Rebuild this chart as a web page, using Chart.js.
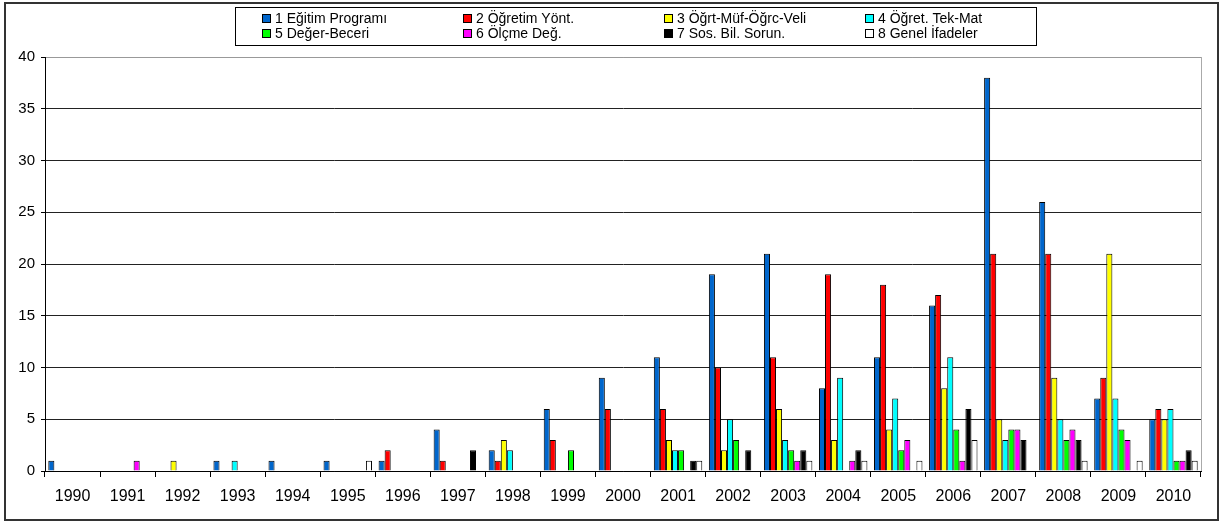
<!DOCTYPE html>
<html>
<head>
<meta charset="utf-8">
<script src="https://cdn.jsdelivr.net/npm/chart.js@4/dist/chart.umd.min.js"></script>
<style>
  html, body { margin: 0; padding: 0; background: #fff; }
  canvas { display: block; }
</style>
</head>
<body>
<canvas id="chart" width="1222" height="523"></canvas>
<script>
const years = ['1990', '1991', '1992', '1993', '1994', '1995', '1996', '1997', '1998', '1999', '2000',
  '2001', '2002', '2003', '2004', '2005', '2006', '2007', '2008', '2009', '2010'];

const seriesNames = ['1 Eğitim Programı', '2 Öğretim Yönt.', '3 Öğrt-Müf-Öğrc-Veli', '4 Öğret. Tek-Mat',
  '5 Değer-Beceri', '6 Ölçme Değ.', '7 Sos. Bil. Sorun.', '8 Genel İfadeler'];

const egitimProgrami = [1, 0, 0, 1, 1, 1, 1, 4, 2, 6, 9, 11, 19, 21, 8, 11, 16, 38, 26, 7, 5];
const ogretimYont    = [0, 0, 0, 0, 0, 0, 2, 1, 1, 3, 6, 6, 10, 11, 19, 18, 17, 21, 21, 9, 6];
const ogrtMufVeli    = [0, 0, 1, 0, 0, 0, 0, 0, 3, 0, 0, 3, 2, 6, 3, 4, 8, 5, 9, 21, 5];
const ogretTekMat    = [0, 0, 0, 1, 0, 0, 0, 0, 2, 0, 0, 2, 5, 3, 9, 7, 11, 3, 5, 7, 6];
const degerBeceri    = [0, 0, 0, 0, 0, 0, 0, 0, 0, 2, 0, 2, 3, 2, 0, 2, 4, 4, 3, 4, 1];
const olcmeDeg       = [0, 1, 0, 0, 0, 0, 0, 0, 0, 0, 0, 0, 0, 1, 1, 3, 1, 4, 4, 3, 1];
const sosBilSorun    = [0, 0, 0, 0, 0, 0, 0, 2, 0, 0, 0, 1, 2, 2, 2, 0, 6, 3, 3, 0, 2];
const genelIfadeler  = [0, 0, 0, 0, 0, 1, 0, 0, 0, 0, 0, 1, 0, 1, 1, 1, 3, 0, 1, 1, 1];

const seriesData = [egitimProgrami, ogretimYont, ogrtMufVeli, ogretTekMat,
  degerBeceri, olcmeDeg, sosBilSorun, genelIfadeler];
const colors = ['#0066cc', '#ff0000', '#ffff00', '#00ffff', '#00ff00', '#ff00ff', '#000000', '#ffffff'];

const FONT = '"Liberation Sans", Arial, sans-serif';

// frame round the whole chart and the plot area, like the Excel original
const chartFrame = {
  id: 'chartFrame',
  beforeDraw: (chart) => {
    const { ctx, chartArea } = chart;
    ctx.save();
    ctx.fillStyle = '#fff';
    ctx.fillRect(0, 0, chart.width, chart.height);
    ctx.strokeStyle = '#aaa';
    ctx.lineWidth = 1;
    ctx.strokeRect(chartArea.left + 0.5, chartArea.top + 0.5, chartArea.width, chartArea.height);
    ctx.strokeStyle = '#333';
    ctx.lineWidth = 2;
    ctx.strokeRect(5, 3, 1213, 517);
    ctx.restore();
  }
};

// legend box in a 4 x 2 grid
const gridLegend = {
  id: 'gridLegend',
  afterDraw: (chart) => {
    const { ctx } = chart;
    ctx.save();
    ctx.fillStyle = '#fff';
    ctx.fillRect(235, 7, 801, 38);
    ctx.strokeStyle = '#000';
    ctx.lineWidth = 1;
    ctx.strokeRect(235.5, 7.5, 801, 38);
    ctx.font = '14px ' + FONT;
    ctx.textBaseline = 'middle';
    seriesNames.forEach((name, i) => {
      const x = 262 + (i % 4) * 201;
      const y = i < 4 ? 18 : 33;
      ctx.fillStyle = colors[i];
      ctx.fillRect(x, y - 4, 8, 8);
      ctx.strokeStyle = '#000';
      ctx.strokeRect(x + 0.5, y - 3.5, 8, 8);
      ctx.fillStyle = '#000';
      ctx.fillText(name, x + 13, y + 1);
    });
    ctx.restore();
  }
};

new Chart(document.getElementById('chart'), {
  type: 'bar',
  data: {
    labels: years,
    datasets: seriesNames.map((name, i) => ({
      label: name,
      data: seriesData[i],
      backgroundColor: colors[i],
      borderColor: '#000',
      borderWidth: c => (c.raw ? 1 : 0),
      categoryPercentage: 0.88,
      barPercentage: 1.0
    }))
  },
  options: {
    responsive: false,
    animation: false,
    devicePixelRatio: 1,
    layout: { padding: { top: 57, right: 21, bottom: 0, left: 0 } },
    plugins: {
      legend: { display: false },
      tooltip: { enabled: false }
    },
    scales: {
      x: {
        afterFit: s => { s.height = 52; },
        grid: { offset: true, drawOnChartArea: false, tickLength: 6, color: '#000' },
        border: { color: '#000', width: 1 },
        ticks: { font: { size: 16, family: FONT }, color: '#000', padding: 10, maxRotation: 0, autoSkip: false }
      },
      y: {
        min: 0,
        max: 40,
        afterFit: s => { s.width = 45; },
        grid: {
          color: c => (c.tick && c.tick.value === 40 ? '#999' : '#222'),
          tickLength: 4,
          tickColor: '#000'
        },
        border: { color: '#000', width: 1 },
        ticks: { stepSize: 5, font: { size: 15, family: FONT }, color: '#000', padding: 6 }
      }
    }
  },
  plugins: [chartFrame, gridLegend]
});
</script>
</body>
</html>
